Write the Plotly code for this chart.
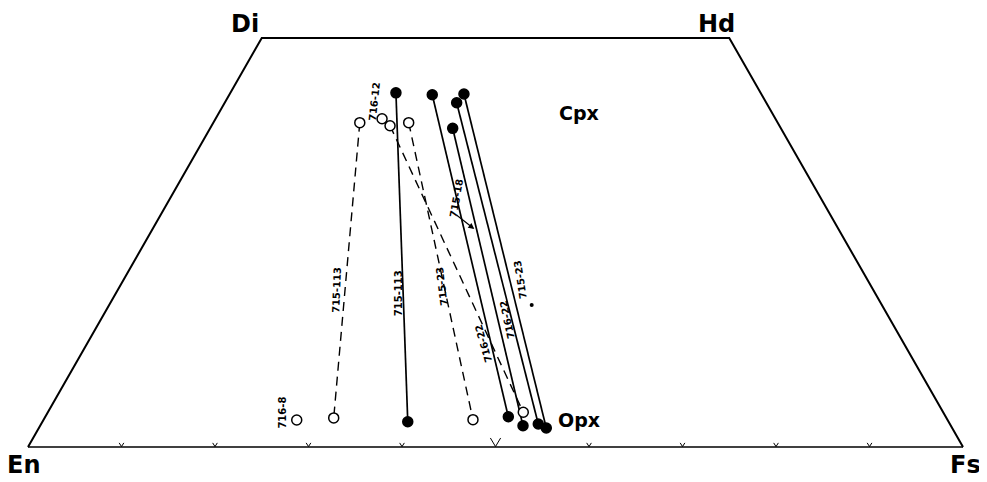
import plotly.graph_objects as go

# ---- data: compositions (mol %) Wo and Fs; En = 100 - Wo - Fs ----
tie_names = ["715-113", "715-113 b", "715-23", "716-22", "716-22 b", "715-23 b", "715-18", "716-22 c"]
cpx_wo = [43.3, 39.65, 39.65, 39.28, 43.07, 38.96, 42.09, 43.15]
cpx_fs = [17.7, 15.66, 20.89, 19.08, 21.7, 25.94, 24.8, 25.05]
opx_wo = [3.09, 3.55, 3.34, 4.24, 3.70, 2.60, 2.81, 2.32]
opx_fs = [39.07, 30.92, 45.92, 50.85, 49.52, 51.64, 53.17, 54.27]
tie_filled = [True, False, False, False, True, True, True, True]

# lone points
single_wo = [40.13, 3.30, 17.36]
single_fs = [17.8, 27.09, 45.19]
single_kind = ["open", "open", "dot"]

tick_fs = [10, 20, 30, 40, 50, 60, 70, 80, 90]


def proj(wo, fs):
    return fs + wo / 2.0, wo


fig = go.Figure()

# quadrilateral outline
quad_wo = [0, 50, 50, 0, 0]
quad_fs = [0, 0, 50, 100, 0]
qx = [proj(w, f)[0] for w, f in zip(quad_wo, quad_fs)]
qy = [proj(w, f)[1] for w, f in zip(quad_wo, quad_fs)]
fig.add_trace(go.Scatter(x=qx[:4], y=qy[:4], mode="lines",
                         line=dict(color="black", width=2), hoverinfo="skip"))
fig.add_trace(go.Scatter(x=[qx[3], qx[4]], y=[qy[3], qy[4]], mode="lines",
                         line=dict(color="black", width=1.6), hoverinfo="skip"))

# small tick "v" marks along En-Fs join
tx, ty = [], []
for t in tick_fs:
    hw, h = (0.55, 1.1) if t == 50 else (0.25, 0.5)
    tx += [t - hw, t, t + hw, None]
    ty += [h, 0.05, h, None]
fig.add_trace(go.Scatter(x=tx, y=ty, mode="lines",
                         line=dict(color="black", width=1), hoverinfo="skip"))

# tie lines
for i in range(len(cpx_wo)):
    x0, y0 = proj(cpx_wo[i], cpx_fs[i])
    x1, y1 = proj(opx_wo[i], opx_fs[i])
    filled = tie_filled[i]
    fig.add_trace(go.Scatter(
        x=[x0, x1], y=[y0, y1], mode="lines",
        line=dict(color="black", width=1.7 if filled else 1.4,
                  dash="solid" if filled else "9px,6px"),
        hoverinfo="skip"))

# end points
for i in range(len(cpx_wo)):
    x0, y0 = proj(cpx_wo[i], cpx_fs[i])
    x1, y1 = proj(opx_wo[i], opx_fs[i])
    filled = tie_filled[i]
    fig.add_trace(go.Scatter(
        x=[x0, x1], y=[y0, y1], mode="markers",
        marker=dict(size=10, symbol="circle",
                    color="black" if filled else "white",
                    line=dict(color="black", width=1.5)),
        hoverinfo="skip"))

for w, f, k in zip(single_wo, single_fs, single_kind):
    x, y = proj(w, f)
    if k == "dot":
        m = dict(size=4, color="black")
    else:
        m = dict(size=10, color="white", line=dict(color="black", width=1.5))
    fig.add_trace(go.Scatter(x=[x], y=[y], mode="markers", marker=m, hoverinfo="skip"))

FONT = "DejaVu Sans"
big = dict(family=FONT, size=24, color="black", weight="bold")
mid = dict(family=FONT, size=19, color="black", weight="bold")
small = dict(family=FONT, size=10, color="black", weight="bold")

corner_labels = [("Di", 23.2, 51.7), ("Hd", 73.6, 51.7), ("En", -0.5, -2.2), ("Fs", 100.3, -2.2)]
for t, x, y in corner_labels:
    fig.add_annotation(x=x, y=y, text=t, showarrow=False, font=big)
for t, x, y in [("Cpx", 58.9, 40.8), ("Opx", 58.9, 3.3)]:
    fig.add_annotation(x=x, y=y, text=t, showarrow=False, font=mid)

sample_labels = [
    ("716-12", 37.0, 42.3, -84),
    ("715-18", 45.8, 30.4, -80),
    ("715-113", 33.05, 19.2, -88),
    ("715-113", 39.57, 18.8, -90),
    ("715-23", 44.28, 19.6, -97),
    ("716-22", 48.66, 12.7, -106),
    ("716-22", 51.23, 15.5, -102),
    ("715-23", 52.62, 20.4, -99),
    ("716-8", 27.27, 4.2, -90),
]
for t, x, y, a in sample_labels:
    fig.add_annotation(x=x, y=y, text=t, showarrow=False, font=small, textangle=a)

# arrow from 715-18 label to its tie line
fig.add_annotation(x=47.73, y=26.65, ax=-19, ay=-15, text="", showarrow=True,
                   arrowhead=2, arrowsize=1, arrowwidth=1.2, arrowcolor="black")

# the page body has an 8px margin, so ranges are chosen so the drawing lands
# where the reference shows it in the 987x482 window
fig.update_layout(
    width=987, height=482, autosize=False,
    margin=dict(l=0, r=0, t=0, b=0),
    paper_bgcolor="white", plot_bgcolor="white",
    showlegend=False,
    xaxis=dict(range=[-2.139, 103.42], visible=False, fixedrange=True),
    yaxis=dict(range=[-5.26, 53.67], visible=False, fixedrange=True),
)

fig.write_html("out.html")
